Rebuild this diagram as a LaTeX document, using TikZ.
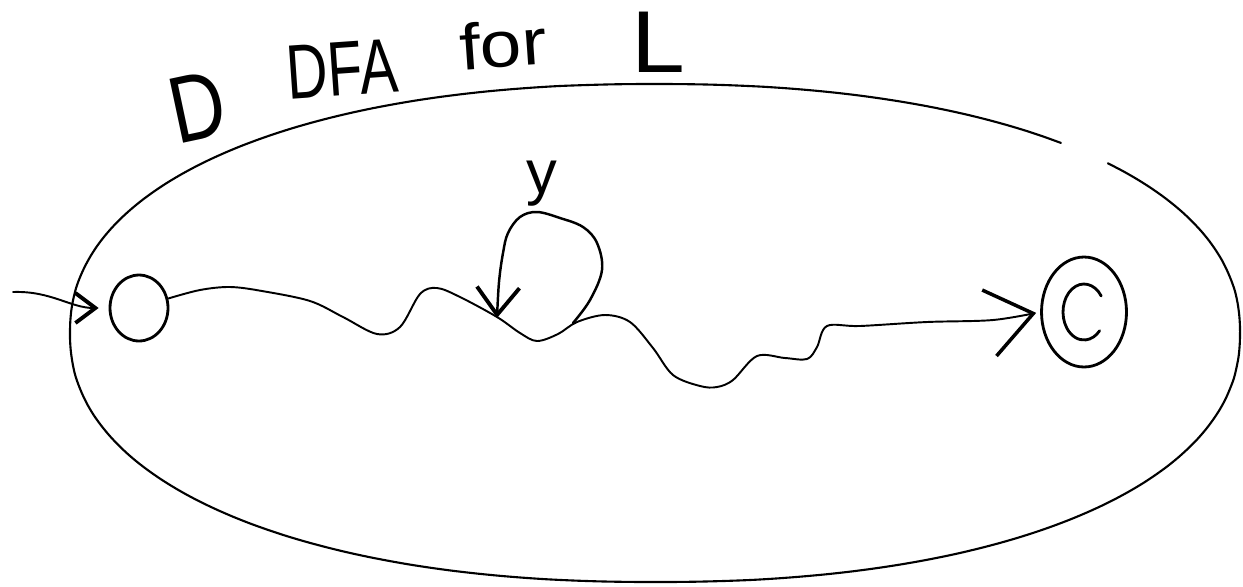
\documentclass[tikz,border=0pt]{standalone}
\usepackage{fontspec}
\setmainfont{Liberation Sans}
\usetikzlibrary{shapes.geometric,arrows.meta}
\begin{document}
\begin{tikzpicture}[x=0.02cm,y=-0.02cm,
  frame/.style={line width=1.2pt, line cap=round, line join=round},
  wire/.style={line width=1.1pt, line cap=round, line join=round},
  state/.style={ellipse, draw, line width=1.6pt, inner sep=0pt},
  hand/.style={inner sep=0pt, text=black},
  bigtip/.style={-{Straight Barb[length=0.9cm,width=1.35cm,line width=2pt]}},
  looptip/.style={-{Straight Barb[length=0.55cm,width=0.85cm,line width=2.2pt]}},
  intip/.style={-{Straight Barb[length=0.4cm,width=0.6cm,line width=2.2pt]}}]
\useasboundingbox (0,0) rectangle (1243,586);

% title
\node[hand, font=\fontsize{54}{60}\selectfont, rotate=12] (tD) at (198,107) {\scalebox{0.8}[1]{D}};
\node[hand, font=\fontsize{44}{50}\selectfont, rotate=4] (tDFA) at (342,69) {\scalebox{0.74}[1]{DFA}};
\node[hand, font=\fontsize{37}{42}\selectfont, rotate=4] (tfor) at (503,44) {\scalebox{1.15}[1]{for}};
\node[hand, font=\fontsize{50}{56}\selectfont] (tL) at (658,42) {\scalebox{1.1}[1]{L}};

% outer region (hand-drawn ellipse, open at top right)
\draw[frame] plot[smooth, domain=48:401, samples=150, variable=\t]
  ({655+585*(cos(\t)<0 ? -1 : 1)*abs(cos(\t))^0.91},
   {333-249*(sin(\t)<0 ? -1 : 1)*abs(sin(\t))^0.91});

% states
\node[state, minimum width=1.16cm, minimum height=1.32cm] (q0) at (139,308) {};
\node[state, minimum width=1.7cm, minimum height=2.2cm] (qf) at (1084,312) {};
\draw[line width=1.6pt, line cap=round] (qf.center) ++(35:0.42cm and 0.56cm)
  arc[start angle=35, end angle=318, x radius=0.42cm, y radius=0.56cm];

% initial arrow
\coordinate (in) at (13,292);
\draw[wire, intip, shorten >=0.2cm] (in) to[out=2, in=180] (q0);

% wavy run
\draw[wire, bigtip, shorten >=0.08cm] plot[smooth, tension=0.55] coordinates {
  (q0.18) (200,290) (230,287) (262,291) (310,301) (343,317) (377,334) (400,327)
  (420,294) (437,288) (460,297) (497,317) (520,333) (537,341) (558,334) (577,322)
  (605,315) (630,322) (653,348) (673,375) (700,386) (717,387) (733,380) (757,356)
  (785,358) (807,359) (817,347) (827,326) (860,326) (927,322) (993,320) (qf.west)};

% loop on the run
\coordinate (ls) at (573,323);
\coordinate (le) at (497,318);
\draw[wire, line width=1.4pt, looptip] plot[smooth, tension=0.6] coordinates {
  (ls) (590,300) (602,270) (597,243) (583,227) (560,218) (537,212) (520,217)
  (508,233) (503,253) (499,282) (le)};
\node[hand, font=\fontsize{35}{40}\selectfont] (ly) at (542,184) {y};
\end{tikzpicture}
\end{document}
